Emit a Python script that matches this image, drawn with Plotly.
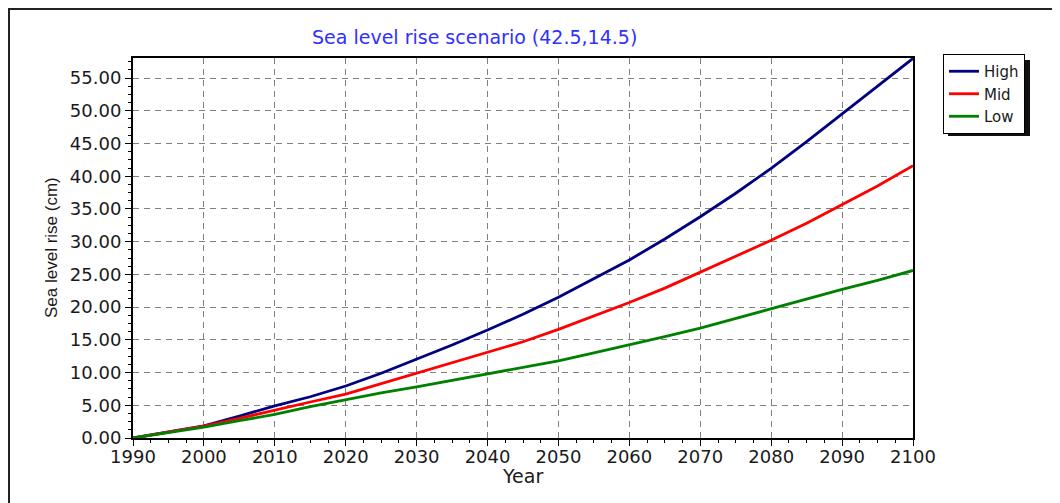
import plotly.graph_objects as go

years = [1990, 1995, 2000, 2005, 2010, 2015, 2020, 2025, 2030, 2035, 2040, 2045,
         2050, 2055, 2060, 2065, 2070, 2075, 2080, 2085, 2090, 2095, 2100]
high = [0.0, 0.9, 1.85, 3.35, 4.9, 6.3, 7.95, 9.9, 12.0, 14.2, 16.5, 18.9,
        21.5, 24.3, 27.2, 30.4, 33.8, 37.4, 41.2, 45.3, 49.5, 53.7, 58.0]
mid = [0.0, 0.9, 1.8, 3.0, 4.3, 5.5, 6.7, 8.3, 9.9, 11.4, 13.0, 14.7,
       16.6, 18.6, 20.7, 22.9, 25.3, 27.7, 30.2, 32.8, 35.6, 38.5, 41.6]
low = [0.0, 0.8, 1.65, 2.65, 3.6, 4.8, 5.9, 6.9, 7.8, 8.8, 9.8, 10.8,
       11.8, 13.0, 14.2, 15.5, 16.8, 18.3, 19.8, 21.2, 22.7, 24.1, 25.6]

series = [("High", high, "#000080"), ("Mid", mid, "#ff0000"), ("Low", low, "#008000")]

OFF = 8  # page body margin
W, H = 1060 - OFF, 503 - OFF
L, R, T, B = 133 - OFF, 913 - OFF, 58 - OFF, 438 - OFF  # plot area in figure px


def px(x):  # x in reference (page) pixels
    return (x - OFF - L) / (R - L)


def py(y):
    return (B - (y - OFF)) / (B - T)


fig = go.Figure()
for name, vals, col in series:
    fig.add_trace(go.Scatter(x=years, y=vals, name=name, mode="lines",
                             line=dict(color=col, width=2.8)))

axis_common = dict(
    showline=True, linecolor="black", linewidth=2, mirror=True,
    ticks="outside", ticklen=6, tickcolor="black", tickwidth=1,
    showgrid=True, gridcolor="#808080", gridwidth=1, griddash="6px,5px",
    zeroline=False,
    tickfont=dict(family="DejaVu Sans", size=18, color="#1a1a1a"),
)

fig.update_xaxes(range=[1990, 2100], dtick=10, tick0=1990, ticklabelstandoff=-5,
                 minor=dict(ticks="outside", ticklen=3, dtick=2.5, tickcolor="black", showgrid=False),
                 **axis_common)
fig.update_yaxes(range=[0, 58.06], dtick=5, tick0=0, tickformat=".2f",
                 minor=dict(ticks="outside", ticklen=3, dtick=1.25, tickcolor="black", showgrid=False),
                 **axis_common)

fig.update_layout(
    width=W, height=H,
    margin=dict(l=L, r=W - R, t=T, b=H - B, pad=0),
    paper_bgcolor="white", plot_bgcolor="white",
    font=dict(family="DejaVu Sans", size=18, color="#1a1a1a"),
    showlegend=True,
    legend=dict(x=px(943), y=py(54), xanchor="left", yanchor="top",
                bgcolor="white", bordercolor="black", borderwidth=1,
                font=dict(family="DejaVu Sans", size=15, color="#1a1a1a"),
                tracegroupgap=0, itemwidth=30),
    annotations=[
        dict(text="Sea level rise scenario (42.5,14.5)", xref="paper", yref="paper",
             x=px(474), y=py(37), xanchor="center", yanchor="middle", showarrow=False,
             font=dict(family="DejaVu Sans", size=19, color="#3030ff")),
        dict(text="Sea level rise (cm)", xref="paper", yref="paper",
             x=px(51), y=py(248), xanchor="center", yanchor="middle", showarrow=False,
             textangle=-90,
             font=dict(family="Liberation Sans", size=17, color="#1a1a1a")),
        dict(text="Year", xref="paper", yref="paper",
             x=px(522), y=py(476), xanchor="center", yanchor="middle", showarrow=False,
             font=dict(family="DejaVu Sans", size=19, color="#1a1a1a")),
    ],
    shapes=[
        dict(type="rect", xref="paper", yref="paper",
             x0=px(9), x1=px(1053), y0=py(9), y1=py(530),
             line=dict(color="#222222", width=2), fillcolor="rgba(0,0,0,0)", layer="below"),
        dict(type="rect", xref="paper", yref="paper",
             x0=px(948), x1=px(1030), y0=py(60), y1=py(136),
             line=dict(width=0), fillcolor="#111111", layer="above"),
    ],
)

fig.write_html("out.html")
